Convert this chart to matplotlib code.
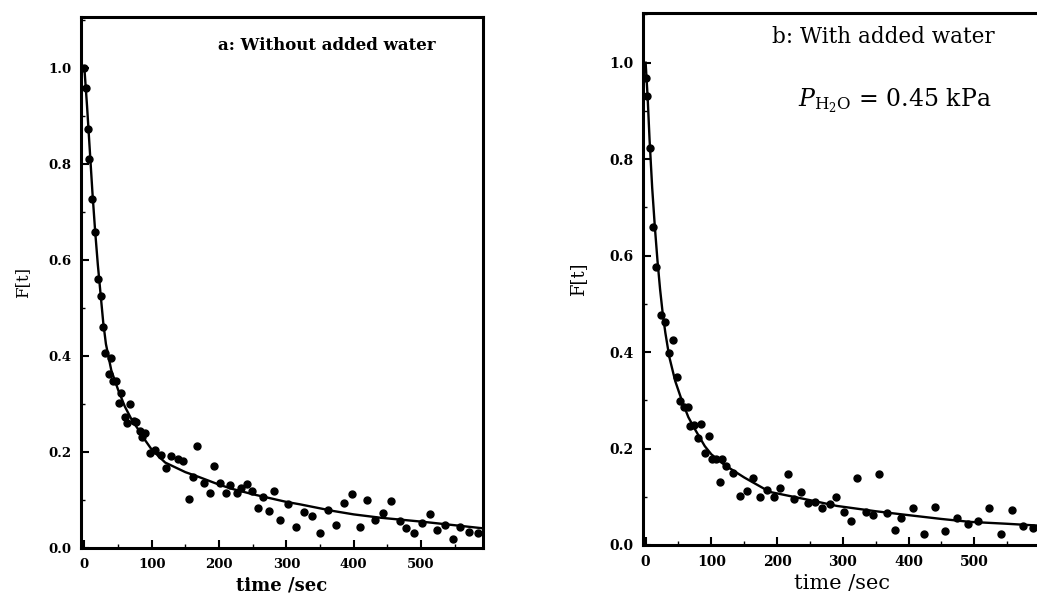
import numpy as np
import matplotlib
matplotlib.use('Agg')
import matplotlib.pyplot as plt
from matplotlib.ticker import MultipleLocator

plt.rcParams['mathtext.fontset'] = 'dejavuserif'

# Панель a: без доданої води (точки)
t_a = [0, 3, 6, 7, 12, 16, 20, 24, 27, 31, 36, 40, 43, 47, 52, 55, 61, 64, 68, 73,
       77, 83, 85, 90, 98, 105, 114, 121, 129, 139, 146, 155, 161, 168, 177, 186,
       193, 201, 210, 217, 226, 233, 241, 249, 258, 265, 274, 281, 290, 302, 314,
       326, 338, 350, 362, 373, 385, 397, 409, 420, 432, 443, 456, 468, 478, 489,
       501, 514, 524, 536, 548, 558, 571, 584]
f_a = [1.0, 0.958, 0.873, 0.81, 0.727, 0.658, 0.56, 0.525, 0.46, 0.406, 0.362,
       0.396, 0.348, 0.348, 0.302, 0.323, 0.273, 0.26, 0.30, 0.265, 0.262, 0.244,
       0.231, 0.24, 0.198, 0.204, 0.194, 0.167, 0.192, 0.185, 0.181, 0.102, 0.148,
       0.212, 0.135, 0.115, 0.171, 0.135, 0.115, 0.131, 0.115, 0.125, 0.133,
       0.119, 0.083, 0.106, 0.077, 0.119, 0.058, 0.092, 0.044, 0.075, 0.067,
       0.031, 0.079, 0.048, 0.094, 0.112, 0.044, 0.10, 0.058, 0.073, 0.098,
       0.056, 0.042, 0.031, 0.052, 0.071, 0.038, 0.048, 0.019, 0.044, 0.033, 0.031]

# Панель a: крива апроксимації
fit_t_a = [0, 4, 8, 12, 16, 20, 24, 28, 32, 40, 50, 60, 70, 80, 90, 100, 120, 150,
           170, 200, 220, 250, 300, 320, 370, 400, 440, 500, 520, 592]
fit_f_a = [1.0, 0.92, 0.83, 0.74, 0.66, 0.59, 0.53, 0.47, 0.425, 0.37, 0.33, 0.295,
           0.268, 0.247, 0.225, 0.205, 0.178, 0.158, 0.148, 0.132, 0.123, 0.112,
           0.096, 0.091, 0.077, 0.070, 0.063, 0.055, 0.052, 0.041]

# Панель b: з доданою водою (точки)
t_b = [0, 2, 6, 11, 16, 24, 30, 36, 42, 47, 52, 58, 64, 68, 74, 79, 85, 90, 97,
       101, 107, 113, 116, 122, 133, 143, 154, 163, 174, 184, 195, 205, 216, 226,
       236, 247, 257, 269, 280, 290, 302, 312, 321, 335, 346, 355, 367, 379, 389,
       407, 424, 441, 456, 473, 491, 506, 523, 541, 557, 574, 589]
f_b = [0.969, 0.931, 0.823, 0.66, 0.576, 0.477, 0.462, 0.398, 0.425, 0.348, 0.299,
       0.286, 0.286, 0.247, 0.249, 0.222, 0.251, 0.191, 0.226, 0.178, 0.178, 0.131,
       0.178, 0.164, 0.149, 0.102, 0.112, 0.139, 0.10, 0.114, 0.10, 0.118, 0.147,
       0.095, 0.11, 0.087, 0.09, 0.077, 0.085, 0.10, 0.069, 0.05, 0.139, 0.069,
       0.062, 0.147, 0.067, 0.031, 0.056, 0.077, 0.023, 0.079, 0.029, 0.056,
       0.044, 0.05, 0.077, 0.023, 0.072, 0.039, 0.035]

# Панель b: крива апроксимації
fit_t_b = [0, 3, 6, 10, 14, 18, 22, 26, 30, 36, 45, 55, 65, 75, 90, 100, 120, 150,
           189, 250, 291, 350, 393, 450, 493, 550, 600]
fit_f_b = [1.0, 0.93, 0.84, 0.74, 0.66, 0.59, 0.53, 0.48, 0.44, 0.39, 0.34, 0.30,
           0.265, 0.24, 0.205, 0.188, 0.166, 0.14, 0.11, 0.093, 0.081, 0.070,
           0.063, 0.054, 0.048, 0.044, 0.040]

W, H = 1037, 602
fig = plt.figure(figsize=(W / 100, H / 100), dpi=100)

ax1 = fig.add_axes([81 / W, 54 / H, 402 / W, 531 / H])
ax2 = fig.add_axes([643 / W, 57 / H, 397 / W, 532 / H])


def style(ax, xlim, ylim, fs):
    ax.set_xlim(*xlim)
    ax.set_ylim(*ylim)
    for s in ax.spines.values():
        s.set_linewidth(2.2)
    ax.xaxis.set_major_locator(MultipleLocator(100))
    ax.xaxis.set_minor_locator(MultipleLocator(50))
    ax.yaxis.set_major_locator(MultipleLocator(0.2))
    ax.yaxis.set_minor_locator(MultipleLocator(0.1))
    ax.tick_params(which='major', direction='in', length=6, width=1.5, pad=7,
                   labelsize=fs)
    ax.tick_params(which='minor', direction='in', length=3, width=1.0)
    ax.set_xticks([0, 100, 200, 300, 400, 500])
    ax.set_yticks([0.0, 0.2, 0.4, 0.6, 0.8, 1.0])
    ax.set_yticklabels(['0.0', '0.2', '0.4', '0.6', '0.8', '1.0'])
    for lab in ax.get_xticklabels() + ax.get_yticklabels():
        lab.set_fontfamily('DejaVu Serif')
        lab.set_fontweight('bold')


# a
ax1.plot(fit_t_a, fit_f_a, color='black', lw=1.7)
ax1.plot(t_a, f_a, 'o', color='black', markersize=5)
style(ax1, (-5, 592), (0, 1.106), 9.5)
ax1.set_xlabel('time /sec', fontfamily='DejaVu Serif', fontweight='bold',
               fontsize=13, labelpad=4)
ax1.set_ylabel('F[t]', fontfamily='DejaVu Serif', fontsize=12, labelpad=12)
ax1.text(0.883, 0.947, 'a: Without added water', transform=ax1.transAxes,
         ha='right', va='center', fontfamily='DejaVu Serif', fontweight='bold',
         fontsize=12)

# b
ax2.plot(fit_t_b, fit_f_b, color='black', lw=1.7)
ax2.plot(t_b, f_b, 'o', color='black', markersize=5)
style(ax2, (-4, 600), (0, 1.103), 10)
ax2.set_xlabel('time /sec', fontfamily='DejaVu Serif', fontsize=15, labelpad=4)
ax2.set_ylabel('F[t]', fontfamily='DejaVu Serif', fontsize=13, labelpad=16)
ax2.text(0.325, 0.955, 'b: With added water', transform=ax2.transAxes,
         ha='left', va='center', fontfamily='DejaVu Serif', fontsize=15.5)
ax2.text(0.39, 0.836, r'$P_{\mathrm{H_2O}}$ = 0.45 kPa', transform=ax2.transAxes,
         ha='left', va='center', fontfamily='DejaVu Serif', fontsize=17)

fig.savefig('out.png', dpi=100)
